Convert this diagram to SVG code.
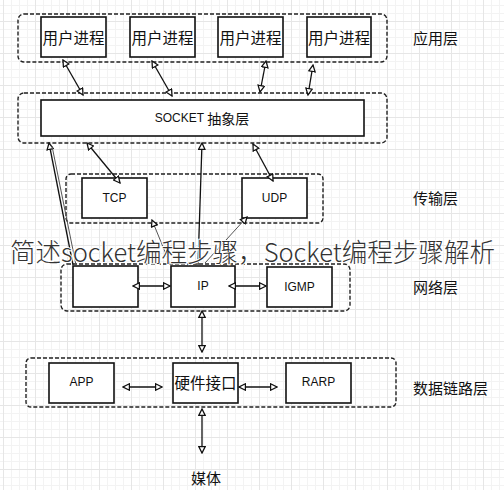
<svg xmlns="http://www.w3.org/2000/svg" width="504" height="490" viewBox="0 0 504 490">
<defs>
<pattern id="minor" width="8" height="8" patternUnits="userSpaceOnUse" x="3" y="5">
<path d="M0,0.5 H8 M0.5,0 V8" stroke="#f3f3f3" stroke-width="1" fill="none"/>
</pattern>
<pattern id="major" width="32" height="32" patternUnits="userSpaceOnUse" x="3" y="21">
<path d="M0,0.5 H32 M0.5,0 V32" stroke="#e6e6e6" stroke-width="1" fill="none"/>
</pattern>
<marker id="ah" viewBox="0 0 10 10" refX="9" refY="5" markerWidth="8" markerHeight="8" markerUnits="userSpaceOnUse" orient="auto-start-reverse">
<path d="M1,1 L9,5 L1,9 z" fill="#fff" stroke="#111" stroke-width="1.6"/>
</marker>
</defs>
<style>
.cont{fill:none;stroke:#222;stroke-width:1.4;stroke-dasharray:4 2}
.box{fill:#fff;stroke:#111;stroke-width:1.6}
.cn{font-family:"Noto Sans CJK SC","Noto Sans",sans-serif;fill:#111;text-anchor:middle;dominant-baseline:central}
.lt{font-family:"Liberation Sans","Noto Sans",sans-serif;fill:#111;text-anchor:middle;dominant-baseline:central;font-size:12px}
.lay{font-family:"Noto Sans CJK SC",sans-serif;fill:#111;font-size:15px;dominant-baseline:central}
.c line{stroke:#111;stroke-width:1.3;fill:none}
.c line.both{marker-start:url(#ah);marker-end:url(#ah)}
.c line.st{marker-start:url(#ah)}
.c line.thin{stroke:#555;stroke-width:1}
</style>
<rect width="504" height="490" fill="#fff"/>
<rect width="504" height="490" fill="url(#minor)"/>
<rect width="504" height="490" fill="url(#major)"/>

<g id="app-layer">
<rect class="cont" x="18" y="14" width="369" height="48" rx="6"/>
<text class="lay" x="413" y="37">应用层</text>
</g>
<g id="proc1"><rect class="box" x="41" y="17" width="65" height="40"/><text class="cn" x="73.5" y="37" font-size="15.5">用户进程</text></g>
<g id="proc2"><rect class="box" x="130" y="17" width="65" height="40"/><text class="cn" x="162.5" y="37" font-size="15.5">用户进程</text></g>
<g id="proc3"><rect class="box" x="218" y="17" width="65" height="40"/><text class="cn" x="250.5" y="37" font-size="15.5">用户进程</text></g>
<g id="proc4"><rect class="box" x="307" y="17" width="64" height="40"/><text class="cn" x="339" y="37" font-size="15.5">用户进程</text></g>

<g id="socket-layer">
<rect class="cont" x="18" y="93" width="369" height="50" rx="6"/>
<rect class="box" x="41" y="100" width="323" height="36"/>
<text x="202" y="118" text-anchor="middle" dominant-baseline="central" fill="#111"><tspan font-family="Liberation Sans, sans-serif" font-size="12">SOCKET </tspan><tspan font-family="Noto Sans CJK SC, sans-serif" font-size="14">抽象层</tspan></text>
</g>

<g id="transport-layer">
<rect class="cont" x="66" y="174" width="257" height="49" rx="5"/>
<text class="lay" x="413" y="197">传输层</text>
</g>
<g id="tcp"><rect class="box" x="82" y="178" width="65" height="40"/><text class="lt" x="114.5" y="198">TCP</text></g>
<g id="udp"><rect class="box" x="242" y="178" width="65" height="40"/><text class="lt" x="274.5" y="198">UDP</text></g>

<g id="network-layer">
<rect class="cont" x="61" y="264" width="289" height="47" rx="6"/>
<text class="lay" x="413" y="286">网络层</text>
</g>
<g id="net-blank"><rect class="box" x="73" y="266" width="65" height="41"/></g>
<g id="ip"><rect class="box" x="171" y="266" width="64" height="41"/><text class="lt" x="203" y="286">IP</text></g>
<g id="igmp"><rect class="box" x="267" y="267" width="65" height="40"/><text class="lt" x="299.5" y="287">IGMP</text></g>

<g id="datalink-layer">
<rect class="cont" x="26" y="358" width="370" height="49" rx="5"/>
<text class="lay" x="413" y="387">数据链路层</text>
</g>
<g id="app"><rect class="box" x="49" y="363" width="65" height="40"/><text class="lt" x="81.5" y="382">APP</text></g>
<g id="hw"><rect class="box" x="173" y="363" width="65" height="40"/><text class="cn" x="205.5" y="382" font-size="15.5">硬件接口</text></g>
<g id="rarp"><rect class="box" x="286" y="363" width="65" height="40"/><text class="lt" x="318.5" y="382">RARP</text></g>

<g id="media"><text class="cn" x="206" y="477" font-size="15">媒体</text></g>

<g id="connectors" class="c">
<line class="both" x1="63" y1="60" x2="83" y2="95"/>
<line class="both" x1="152" y1="61" x2="172" y2="96"/>
<line class="both" x1="266" y1="61" x2="260" y2="92"/>
<line class="both" x1="313" y1="65" x2="308" y2="95"/>
<line class="st" x1="49" y1="143" x2="73" y2="265"/>
<line class="thin" x1="52" y1="146" x2="76" y2="265"/>
<line class="both" x1="87" y1="143" x2="120" y2="183"/>
<line class="st" x1="202" y1="143" x2="198" y2="265"/>
<line class="both" x1="253" y1="144" x2="273" y2="181"/>
<line class="st thin" x1="152" y1="220" x2="170" y2="264"/>
<line class="st thin" x1="247" y1="217" x2="205" y2="263"/>
<line class="both" x1="133" y1="286" x2="170" y2="286"/>
<line class="both" x1="229" y1="286" x2="266" y2="286"/>
<line class="both" x1="202" y1="311" x2="202" y2="352"/>
<line class="both" x1="123" y1="387" x2="162" y2="387"/>
<line class="both" x1="239" y1="387" x2="277" y2="387"/>
<line class="both" x1="202" y1="409" x2="202" y2="453"/>
</g>

<g id="overlay-title">
<text x="10" y="262" font-family="Noto Sans CJK SC, sans-serif" font-weight="300" font-size="26" fill="#333" stroke="#fff" stroke-width="2" paint-order="stroke" textLength="485" lengthAdjust="spacingAndGlyphs">简述socket编程步骤，Socket编程步骤解析</text>
</g>
</svg>
